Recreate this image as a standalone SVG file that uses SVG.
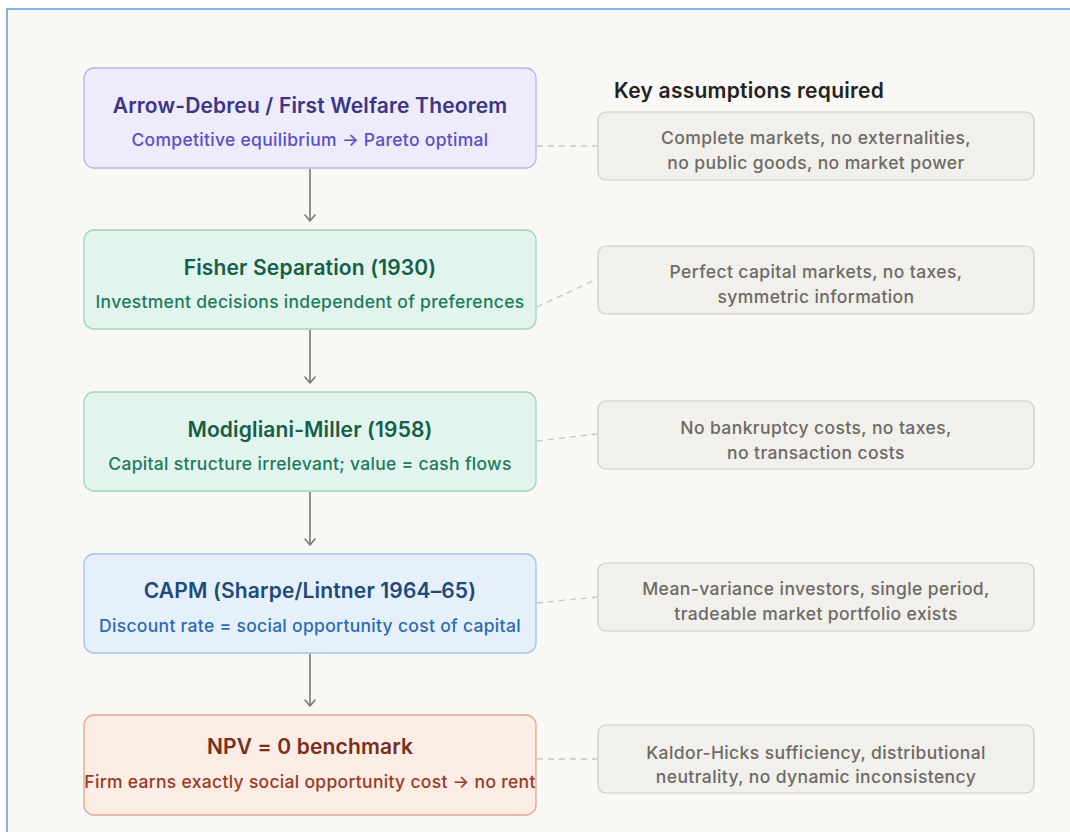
<svg xmlns="http://www.w3.org/2000/svg" width="1070" height="832" viewBox="0 0 1070 832">
  <defs>
    <marker id="arrow" viewBox="0 0 12 12" refX="10" refY="6" markerWidth="12" markerHeight="12" markerUnits="userSpaceOnUse" orient="auto">
      <path d="M4 1 L10 6 L4 11" fill="none" stroke="#7a7873" stroke-width="1.6" stroke-linecap="round" stroke-linejoin="round"/>
    </marker>
    <style>
      text { font-family: Inter, "Noto Sans", "Liberation Sans", sans-serif; text-anchor: middle; }
      .title { font-size: 21px; font-weight: 600; letter-spacing: 0.15px; }
      .sub { font-size: 17.5px; font-weight: 500; letter-spacing: 0.3px; }
      .note { font-size: 17.5px; font-weight: 500; letter-spacing: 0.4px; fill: #6b6a66; }
      .notebox { fill: #f2f0ea; stroke: #cfccc4; stroke-width: 1.2; }
      .flow { stroke: #7a7873; stroke-width: 1.6; fill: none; }
      .dash { stroke: #c9c6bf; stroke-width: 1.3; stroke-dasharray: 6 5; fill: none; }
      .violet rect { fill: #eeebfc; stroke: #bab2ec; stroke-width: 1.3; }
      .violet .title { fill: #3b3584; }
      .violet .sub { fill: #5a4fc8; }
      .green rect { fill: #e2f4ee; stroke: #9fd4c0; stroke-width: 1.3; }
      .green .title { fill: #155e48; }
      .green .sub { fill: #1f7a5c; }
      .blue rect { fill: #e6f0fb; stroke: #9fc4ea; stroke-width: 1.3; }
      .blue .title { fill: #1d4a7a; }
      .blue .sub { fill: #2c6bb0; }
      .rust rect { fill: #fbece6; stroke: #dfa690; stroke-width: 1.3; }
      .rust .title { fill: #7a2e18; }
      .rust .sub { fill: #9a3a1e; }
    </style>
  </defs>

  <!-- page and frame -->
  <rect x="0" y="0" width="1070" height="832" fill="#ffffff"/>
  <rect x="7" y="9" width="1080" height="840" fill="#f9f8f5" stroke="#5b9bd5" stroke-width="1.5"/>

  <!-- connectors -->
  <g id="connectors">
    <line class="flow" x1="310" y1="169" x2="310" y2="221" marker-end="url(#arrow)"/>
    <line class="flow" x1="310" y1="330" x2="310" y2="383" marker-end="url(#arrow)"/>
    <line class="flow" x1="310" y1="492" x2="310" y2="545" marker-end="url(#arrow)"/>
    <line class="flow" x1="310" y1="654" x2="310" y2="706" marker-end="url(#arrow)"/>
    <line class="dash" x1="537" y1="146" x2="597" y2="146"/>
    <line class="dash" x1="537" y1="307" x2="597" y2="279"/>
    <line class="dash" x1="537" y1="441" x2="597" y2="434"/>
    <line class="dash" x1="537" y1="603" x2="597" y2="597"/>
    <line class="dash" x1="537" y1="759" x2="597" y2="759"/>
  </g>

  <!-- main chain -->
  <g id="arrow-debreu" class="violet">
    <rect x="84" y="68" width="452" height="100" rx="10"/>
    <text class="title" x="310" y="113">Arrow-Debreu / First Welfare Theorem</text>
    <text class="sub" x="310" y="146">Competitive equilibrium → Pareto optimal</text>
  </g>
  <g id="fisher" class="green">
    <rect x="84" y="230" width="452" height="99" rx="10"/>
    <text class="title" x="310" y="275">Fisher Separation (1930)</text>
    <text class="sub" x="310" y="308">Investment decisions independent of preferences</text>
  </g>
  <g id="modigliani-miller" class="green">
    <rect x="84" y="392" width="452" height="99" rx="10"/>
    <text class="title" x="310" y="437">Modigliani-Miller (1958)</text>
    <text class="sub" x="310" y="470">Capital structure irrelevant; value = cash flows</text>
  </g>
  <g id="capm" class="blue">
    <rect x="84" y="554" width="452" height="99" rx="10"/>
    <text class="title" x="310" y="598">CAPM (Sharpe/Lintner 1964–65)</text>
    <text class="sub" x="310" y="632">Discount rate = social opportunity cost of capital</text>
  </g>
  <g id="npv" class="rust">
    <rect x="84" y="715" width="452" height="100" rx="10"/>
    <text class="title" x="310" y="754">NPV = 0 benchmark</text>
    <text class="sub" x="310" y="788">Firm earns exactly social opportunity cost → no rent</text>
  </g>

  <!-- assumptions column -->
  <g id="assumptions-heading">
    <text x="614" y="98" style="text-anchor:start;font-size:21px;font-weight:600;letter-spacing:0.25px;fill:#222222">Key assumptions required</text>
  </g>
  <g id="assume-welfare">
    <rect class="notebox" x="598" y="112" width="436" height="68" rx="8"/>
    <text class="note" x="816" y="144">Complete markets, no externalities,</text>
    <text class="note" x="816" y="169">no public goods, no market power</text>
  </g>
  <g id="assume-fisher">
    <rect class="notebox" x="598" y="246" width="436" height="68" rx="8"/>
    <text class="note" x="816" y="278">Perfect capital markets, no taxes,</text>
    <text class="note" x="816" y="303">symmetric information</text>
  </g>
  <g id="assume-mm">
    <rect class="notebox" x="598" y="401" width="436" height="68" rx="8"/>
    <text class="note" x="816" y="434">No bankruptcy costs, no taxes,</text>
    <text class="note" x="816" y="459">no transaction costs</text>
  </g>
  <g id="assume-capm">
    <rect class="notebox" x="598" y="563" width="436" height="68" rx="8"/>
    <text class="note" x="816" y="595">Mean-variance investors, single period,</text>
    <text class="note" x="816" y="620">tradeable market portfolio exists</text>
  </g>
  <g id="assume-npv">
    <rect class="notebox" x="598" y="725" width="436" height="68" rx="8"/>
    <text class="note" x="816" y="759">Kaldor-Hicks sufficiency, distributional</text>
    <text class="note" x="816" y="783">neutrality, no dynamic inconsistency</text>
  </g>
</svg>
